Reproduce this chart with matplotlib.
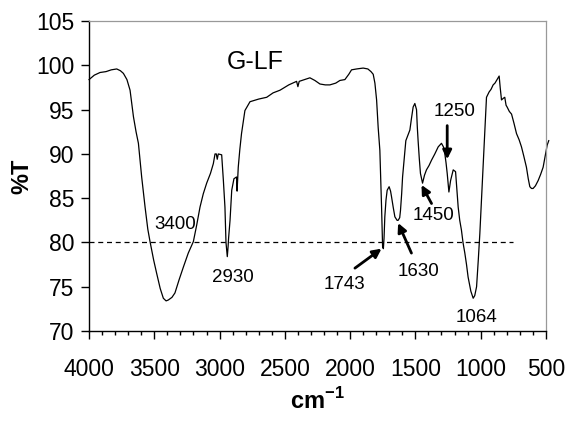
import matplotlib
matplotlib.use('Agg')
import matplotlib.pyplot as plt
from matplotlib.ticker import MultipleLocator

plt.rcParams['font.family'] = ['Liberation Sans', 'DejaVu Sans']
plt.rcParams['mathtext.fontset'] = 'custom'
plt.rcParams['mathtext.rm'] = 'Liberation Sans'
plt.rcParams['mathtext.bf'] = 'Liberation Sans:bold'

# FTIR spectrum of G-LF
wavenumber = [4000, 3960, 3916, 3870, 3830, 3788, 3760, 3737, 3710, 3686, 3660, 3640, 3622,
              3597, 3571, 3550, 3533, 3505, 3482, 3455, 3431, 3410, 3393, 3365, 3342, 3310,
              3278, 3240, 3201, 3175, 3150, 3125, 3099, 3070, 3048, 3035, 3025, 3018, 3010,
              2984, 2971, 2959, 2951, 2941, 2935, 2931, 2920, 2907, 2890, 2870, 2866, 2862,
              2857, 2845, 2832, 2806, 2767, 2700, 2639, 2590, 2537, 2470, 2410, 2400, 2390,
              2308, 2270, 2231, 2190, 2155, 2110, 2078, 2040, 2010, 1989, 1950, 1900, 1864,
              1840, 1823, 1810, 1797, 1785, 1772, 1765, 1759, 1751, 1745, 1740, 1734, 1725,
              1716, 1701, 1690, 1683, 1670, 1657, 1640, 1632, 1620, 1614, 1605, 1598, 1585,
              1573, 1555, 1542, 1530, 1517, 1504, 1491, 1485, 1479, 1470, 1461, 1445, 1430,
              1415, 1395, 1376, 1351, 1325, 1300, 1285, 1274, 1265, 1256, 1243, 1235, 1230,
              1210, 1192, 1182, 1172, 1160, 1147, 1135, 1121, 1108, 1096, 1075, 1057, 1045,
              1031, 1018, 1006, 993, 981, 968, 955, 935, 920, 904, 890, 878, 858, 850, 840,
              825, 815, 805, 797, 780, 763, 745, 725, 705, 687, 670, 649, 635, 623, 610, 598,
              580, 559, 540, 521, 505, 490, 478]
transmittance = [98.4, 98.9, 99.2, 99.3, 99.5, 99.6, 99.4, 99.1, 98.4, 97.2, 94.2, 92.5, 91.2,
                 87.4, 84.0, 81.5, 80.1, 78.0, 76.5, 74.8, 73.7, 73.4, 73.5, 73.8, 74.3, 75.8,
                 77.2, 78.8, 80.1, 82.0, 84.0, 85.5, 86.7, 87.8, 88.9, 90.0, 90.0, 89.4, 90.0,
                 89.9, 87.0, 84.0, 80.0, 78.4, 79.5, 80.5, 82.5, 85.9, 87.2, 87.4, 85.8, 87.0,
                 88.5, 90.5, 92.3, 94.9, 95.9, 96.2, 96.4, 96.9, 97.2, 97.8, 98.2, 97.6, 98.2,
                 98.6, 98.3, 97.9, 97.8, 97.8, 98.0, 98.3, 98.4, 99.0, 99.5, 99.6, 99.7, 99.6,
                 99.3, 99.0, 98.0, 96.1, 93.0, 90.4, 87.0, 84.0, 79.5, 79.3, 80.5, 82.9, 84.8,
                 85.9, 86.3, 85.8, 85.2, 84.0, 82.9, 82.5, 82.5, 82.8, 83.6, 85.5, 87.4, 89.5,
                 91.5, 92.2, 92.7, 94.0, 95.3, 95.7, 95.0, 93.0, 91.5, 89.5, 87.8, 86.7, 87.6,
                 88.2, 88.7, 89.3, 90.0, 90.8, 91.2, 90.8, 90.0, 89.0, 87.8, 85.7, 86.5, 87.0,
                 88.2, 88.0, 86.0, 84.0, 82.5, 81.4, 80.0, 78.8, 77.5, 76.1, 74.5, 73.7, 74.0,
                 75.0, 78.0, 81.0, 85.0, 88.5, 92.5, 96.4, 97.0, 97.3, 97.8, 98.0, 98.3, 98.8,
                 97.5, 96.1, 96.3, 96.4, 95.5, 95.3, 94.8, 94.5, 93.5, 92.3, 91.6, 90.8, 89.8,
                 88.5, 87.2, 86.3, 86.1, 86.1, 86.4, 87.0, 87.7, 88.5, 89.8, 91.0, 91.5]

ref_level = 80
ref_span = [4000, 750]

# peak labels: (text, text position, arrow head or None)
peak_labels = [
    ('3400', (3342, 82.0), None),
    ('2930', (2895, 76.0), None),
    ('1743', (2040, 75.2), (1759, 79.3)),
    ('1630', (1479, 76.7), (1632, 82.2)),
    ('1450', (1364, 83.1), (1453, 86.5)),
    ('1250', (1198, 94.8), (1256, 89.4)),
    ('1064', (1031, 71.5), None),
]
arrow_tails = {'1743': (1963, 77.1), '1630': (1530, 78.8),
               '1450': (1376, 84.4), '1250': (1256, 93.2)}

fig = plt.figure(figsize=(5.71, 4.23), dpi=100)
ax = fig.add_axes([0.156, 0.2175, 0.80, 0.7325])

ax.plot(wavenumber, transmittance, color='black', lw=0.9, clip_on=False)
ax.plot(ref_span, [ref_level, ref_level], color='black', lw=0.9, ls=(0, (4, 3)))

for label, pos, head in peak_labels:
    ax.text(pos[0], pos[1], label, fontsize=13.5, ha='center', va='center')
    if head is not None:
        ax.annotate('', xy=head, xytext=arrow_tails[label],
                    arrowprops=dict(arrowstyle='-|>', color='black', lw=2,
                                    mutation_scale=13, shrinkA=0, shrinkB=0))

ax.text(2729, 100.4, 'G-LF', fontsize=18, ha='center', va='center')

ax.set_xlim(4000, 500)
ax.set_ylim(70, 105)
ax.xaxis.set_major_locator(MultipleLocator(500))
ax.xaxis.set_minor_locator(MultipleLocator(100))
ax.yaxis.set_major_locator(MultipleLocator(5))
ax.tick_params(axis='both', which='major', direction='out', length=5.5, width=1, labelsize=16.5)
ax.tick_params(axis='x', which='minor', direction='out', length=3, width=1)
ax.tick_params(axis='x', pad=14)
ax.tick_params(axis='y', pad=5)

for side in ['top', 'right']:
    ax.spines[side].set_color('#999999')
    ax.spines[side].set_linewidth(0.9)
for side in ['left', 'bottom']:
    ax.spines[side].set_linewidth(1.0)

ax.set_xlabel(r'cm$^{\mathbf{-1}}$', fontsize=17, fontweight='bold')
ax.xaxis.set_label_coords(0.5, -0.185)
ax.set_ylabel('%T', fontsize=17, fontweight='bold')
ax.yaxis.set_label_coords(-0.123, 0.5)

fig.savefig('out.png', dpi=100)
